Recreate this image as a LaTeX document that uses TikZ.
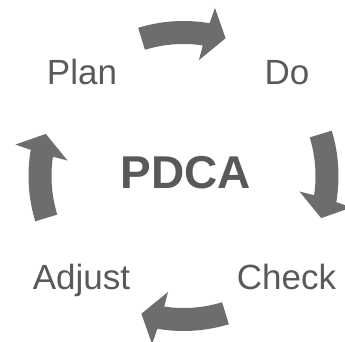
\documentclass[tikz,border=0pt]{standalone}
\usepackage{fontspec}
\setmainfont{Liberation Sans}
\definecolor{txtgray}{HTML}{595959}
\definecolor{arrgray}{HTML}{6D6D6D}
\tikzset{
  lbl/.style={text=txtgray, font=\fontsize{35}{40}\selectfont, inner sep=0pt, anchor=base},
  title/.style={text=txtgray, font=\fontsize{46}{52}\selectfont\bfseries, inner sep=0pt, anchor=base},
  cyclearrow/.style={fill=arrgray, draw=none}
}
\newcommand\pdcaarrow[1]{%
  \fill[cyclearrow] (#1+17:155pt) arc[start angle=#1+17, end angle=#1-9.7, radius=155pt]
    -- (#1-10.6:171pt) -- (#1-17:144pt) -- (#1-7.6:117pt) -- (#1-8.4:132pt)
    arc[start angle=#1-8.4, end angle=#1+17, radius=132pt] -- cycle;}
\begin{document}
\begin{tikzpicture}
\useasboundingbox (0pt,0pt) rectangle (345pt,341pt);
\begin{scope}[shift={(183.5pt,165pt)}]
  \pdcaarrow{90}
  \pdcaarrow{0}
  \pdcaarrow{-90}
  \pdcaarrow{180}
\end{scope}
\node[lbl] (plan) at (82pt,257pt) {Plan};
\node[lbl] (do) at (287pt,257pt) {Do};
\node[lbl] (check) at (286.5pt,52pt) {Check};
\node[lbl] (adjust) at (81.5pt,52pt) {Adjust};
\node[title] (pdca) at (185.5pt,153pt) {PDCA};
\end{tikzpicture}
\end{document}
